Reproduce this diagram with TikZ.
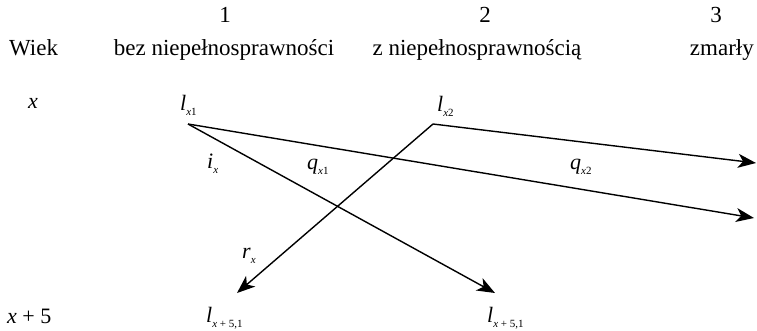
\documentclass[tikz,border=0pt]{standalone}
\usepackage{fontspec}
\setmainfont{Liberation Serif}
\usetikzlibrary{arrows.meta}
\newcommand\ssub[1]{\raisebox{-0.55ex}{\fontsize{11}{11}\selectfont #1}}
\begin{document}
\begin{tikzpicture}[x=1pt,y=-1pt,
  every node/.style={inner sep=0pt, font=\fontsize{22}{24}\selectfont},
  head/.style={anchor=base, font=\fontsize{23}{24}\selectfont},
  lab/.style={anchor=base west},
  conn/.style={line width=1.4pt, line join=round, -{Stealth[length=18pt,width=14pt,inset=5pt]}}]
\useasboundingbox (0,0) rectangle (757,330);
% header
\node[head] (c1) at (225,22) {1};
\node[head] (c2) at (485,22) {2};
\node[head] (c3) at (716,22) {3};
\node[head, anchor=base west] (wiek) at (9,55) {Wiek};
\node[head] (h1) at (224,55) {bez niepełnosprawności};
\node[head] (h2) at (477,55) {z niepełnosprawnością};
\node[head, anchor=base east] (h3) at (754,55) {zmarły};
% rows
\node[lab] (ax) at (28,108) {\textit{x}};
\node[lab] (ax5) at (7,323) {\textit{x} + 5};
\node[lab] (lx1) at (180,110) {\textit{l}\ssub{\textit{x}1}};
\node[lab] (lx2) at (437,111) {\textit{l}\ssub{\textit{x}2}};
\node[lab] (ix) at (207,168) {\textit{i}\ssub{\textit{x}}};
\node[lab] (qx1) at (307,169) {\textit{q}\ssub{\textit{x}1}};
\node[lab] (qx2) at (570,169) {\textit{q}\ssub{\textit{x}2}};
\node[lab] (rx) at (242,258) {\textit{r}\ssub{\textit{x}}};
\node[lab] (b1) at (206,322) {\textit{l}\ssub{\textit{x} + 5,1}};
\node[lab] (b2) at (487,322) {\textit{l}\ssub{\textit{x} + 5,1}};
% connector points
\coordinate (p1) at (188,124);
\coordinate (p2) at (433,124);
\coordinate (t1) at (756,163);
\coordinate (t2) at (754,218);
\coordinate (t3) at (237,293);
\coordinate (t4) at (495,293);
\draw[conn] (p1) -- (t2);
\draw[conn] (p1) -- (t4);
\draw[conn] (p2) -- (t1);
\draw[conn] (p2) -- (t3);
\end{tikzpicture}
\end{document}
